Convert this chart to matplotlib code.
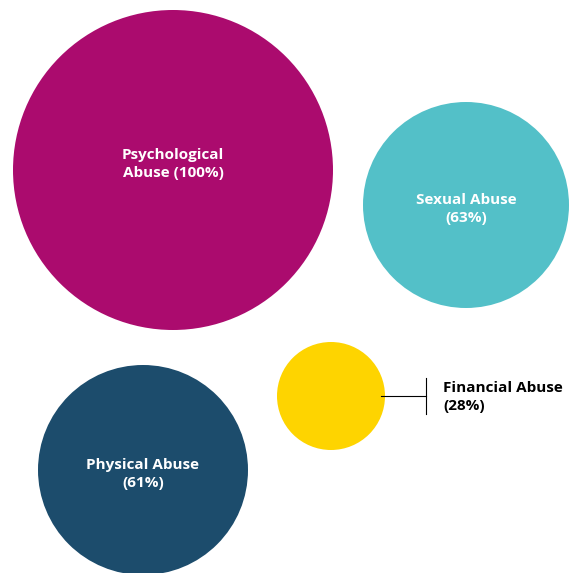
import matplotlib.pyplot as plt
from matplotlib.patches import Circle

# Bubble data (pixel layout of the original infographic)
labels = ['Psychological\nAbuse (100%)', 'Sexual Abuse\n(63%)', 'Financial Abuse\n(28%)', 'Physical Abuse\n(61%)']
values = [100, 63, 28, 61]
bubble_x = [173, 466, 331, 143]
bubble_y = [170, 205, 396, 470]
bubble_r = [160, 103, 54, 105]
colores = ['#AB0B6E', '#53C0C8', '#FED400', '#1C4C6C']

fig = plt.figure(figsize=(5.8, 5.73), dpi=100)
ax = fig.add_axes([0, 0, 1, 1])
ax.set_xlim(0, 580)
ax.set_ylim(573, 0)
ax.set_aspect('equal')
ax.axis('off')

fuente = {'family': 'Open Sans', 'weight': 'bold', 'size': 11}

for i in range(len(values)):
    ax.add_patch(Circle((bubble_x[i], bubble_y[i]), bubble_r[i], color=colores[i], lw=0))
    if values[i] < 40:
        # etiqueta externa con linea guia
        x0 = bubble_x[i] + bubble_r[i] - 4
        x1 = x0 + 45
        ax.plot([x0, x1], [bubble_y[i], bubble_y[i]], color='black', lw=0.8)
        ax.plot([x1, x1], [bubble_y[i] - 18, bubble_y[i] + 18], color='black', lw=0.8)
        ax.text(x1 + 17, bubble_y[i] + 1, labels[i], ha='left', va='center',
                color='black', linespacing=1.35, **fuente)
    else:
        ax.text(bubble_x[i], bubble_y[i] - 6 if i == 0 else bubble_y[i] + 4, labels[i],
                ha='center', va='center', color='white', linespacing=1.35, **fuente)

fig.savefig('out.png', dpi=100)
